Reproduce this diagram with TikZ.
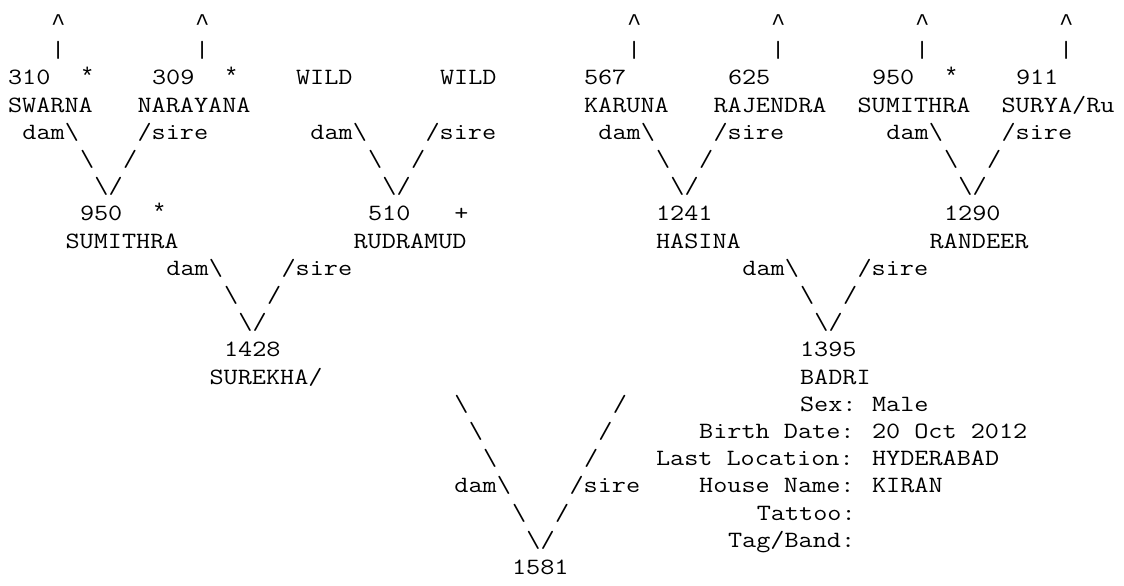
\documentclass[tikz,border=0pt]{standalone}
\usepackage{fontspec}
\newfontfamily\pedfont{Latin Modern Mono}[FakeStretch=1.1755]
\newfontfamily\markfont{Liberation Mono}
\usepackage{tikz}
\tikzset{
  ped/.style={font=\pedfont\fontsize{17.5pt}{20.4pt}\selectfont,inner sep=0pt,outer sep=0pt,anchor=base west},
  pedlink/.style={ped},
  pedmark/.style={ped,font=\markfont\fontsize{18pt}{20.4pt}\selectfont}
}

\begin{document}
\begin{tikzpicture}[x=10.8pt,y=-20.4pt]
  \useasboundingbox (-0.5556,-0.1176) rectangle (77.5,21.426);
  % great grandparents
  \node[pedmark] (up310) at (3,1) {\textasciicircum};
  \node[pedmark] (up309) at (13,1) {\textasciicircum};
  \node[pedmark] (up567) at (43,1) {\textasciicircum};
  \node[pedmark] (up625) at (53,1) {\textasciicircum};
  \node[pedmark] (up950) at (63,1) {\textasciicircum};
  \node[pedmark] (up911) at (73,1) {\textasciicircum};
  \node[pedlink] (bar310) at (3,2) {\textbar};
  \node[pedlink] (bar309) at (13,2) {\textbar};
  \node[pedlink] (bar567) at (43,2) {\textbar};
  \node[pedlink] (bar625) at (53,2) {\textbar};
  \node[pedlink] (bar950) at (63,2) {\textbar};
  \node[pedlink] (bar911) at (73,2) {\textbar};
  \node[ped] (n310) at (0,3) {310};
  \node[pedmark] (m310) at (5,3) {*};
  \node[ped] (n309) at (10,3) {309};
  \node[pedmark] (m309) at (15,3) {*};
  \node[ped] (wildd) at (20,3) {WILD};
  \node[ped] (wilds) at (30,3) {WILD};
  \node[ped] (n567) at (40,3) {567};
  \node[ped] (n625) at (50,3) {625};
  \node[ped] (n950t) at (60,3) {950};
  \node[pedmark] (m950t) at (65,3) {*};
  \node[ped] (n911) at (70,3) {911};
  \node[ped] (swarna) at (0,4) {SWARNA};
  \node[ped] (narayana) at (9,4) {NARAYANA};
  \node[ped] (karuna) at (40,4) {KARUNA};
  \node[ped] (rajendra) at (49,4) {RAJENDRA};
  \node[ped] (sumithrat) at (59,4) {SUMITHRA};
  \node[ped] (surya) at (69,4) {SURYA/Ru};
  \node[pedlink] (dama) at (1,5) {dam\textbackslash};
  \node[pedlink] (sirea) at (9,5) {/sire};
  \node[pedlink] (damb) at (21,5) {dam\textbackslash};
  \node[pedlink] (sireb) at (29,5) {/sire};
  \node[pedlink] (damc) at (41,5) {dam\textbackslash};
  \node[pedlink] (sirec) at (49,5) {/sire};
  \node[pedlink] (damd) at (61,5) {dam\textbackslash};
  \node[pedlink] (sired) at (69,5) {/sire};
  \node[pedlink] (la) at (5,6) {\textbackslash};
  \node[pedlink] (ra) at (8,6) {/};
  \node[pedlink] (lb) at (25,6) {\textbackslash};
  \node[pedlink] (rb) at (28,6) {/};
  \node[pedlink] (lc) at (45,6) {\textbackslash};
  \node[pedlink] (rc) at (48,6) {/};
  \node[pedlink] (ld) at (65,6) {\textbackslash};
  \node[pedlink] (rd) at (68,6) {/};
  \node[pedlink] (va) at (6,7) {\textbackslash/};
  \node[pedlink] (vb) at (26,7) {\textbackslash/};
  \node[pedlink] (vc) at (46,7) {\textbackslash/};
  \node[pedlink] (vd) at (66,7) {\textbackslash/};
  % grandparents
  \node[ped] (n950) at (5,8) {950};
  \node[pedmark] (m950) at (10,8) {*};
  \node[ped] (n510) at (25,8) {510};
  \node[ped] (m510) at (31,8) {+};
  \node[ped] (n1241) at (45,8) {1241};
  \node[ped] (n1290) at (65,8) {1290};
  \node[ped] (sumithra) at (4,9) {SUMITHRA};
  \node[ped] (rudramud) at (24,9) {RUDRAMUD};
  \node[ped] (hasina) at (45,9) {HASINA};
  \node[ped] (randeer) at (64,9) {RANDEER};
  \node[pedlink] (dame) at (11,10) {dam\textbackslash};
  \node[pedlink] (siree) at (19,10) {/sire};
  \node[pedlink] (damf) at (51,10) {dam\textbackslash};
  \node[pedlink] (siref) at (59,10) {/sire};
  \node[pedlink] (le) at (15,11) {\textbackslash};
  \node[pedlink] (re) at (18,11) {/};
  \node[pedlink] (lf) at (55,11) {\textbackslash};
  \node[pedlink] (rf) at (58,11) {/};
  \node[pedlink] (ve) at (16,12) {\textbackslash/};
  \node[pedlink] (vf) at (56,12) {\textbackslash/};
  % parents
  \node[ped] (n1428) at (15,13) {1428};
  \node[ped] (n1395) at (55,13) {1395};
  \node[ped] (surekha) at (14,14) {SUREKHA/};
  \node[ped] (badri) at (55,14) {BADRI};
  \node[pedlink] (lg1) at (31,15) {\textbackslash};
  \node[pedlink] (rg1) at (42,15) {/};
  \node[pedlink] (lg2) at (32,16) {\textbackslash};
  \node[pedlink] (rg2) at (41,16) {/};
  \node[pedlink] (lg3) at (33,17) {\textbackslash};
  \node[pedlink] (rg3) at (40,17) {/};
  \node[pedlink] (damg) at (31,18) {dam\textbackslash};
  \node[pedlink] (sireg) at (39,18) {/sire};
  \node[pedlink] (lg4) at (35,19) {\textbackslash};
  \node[pedlink] (rg4) at (38,19) {/};
  \node[pedlink] (vg) at (36,20) {\textbackslash/};
  \node[ped] (n1581) at (35,21) {1581};
  % details of the sire
  \node[ped] (sexl) at (55,15) {Sex:};
  \node[ped] (sexv) at (60,15) {Male};
  \node[ped] (birthl) at (48,16) {Birth Date:};
  \node[ped] (birthv) at (60,16) {20 Oct 2012};
  \node[ped] (locl) at (45,17) {Last Location:};
  \node[ped] (locv) at (60,17) {HYDERABAD};
  \node[ped] (housel) at (48,18) {House Name:};
  \node[ped] (housev) at (60,18) {KIRAN};
  \node[ped] (tattool) at (52,19) {Tattoo:};
  \node[ped] (tagl) at (50,20) {Tag/Band:};
\end{tikzpicture}
\end{document}
